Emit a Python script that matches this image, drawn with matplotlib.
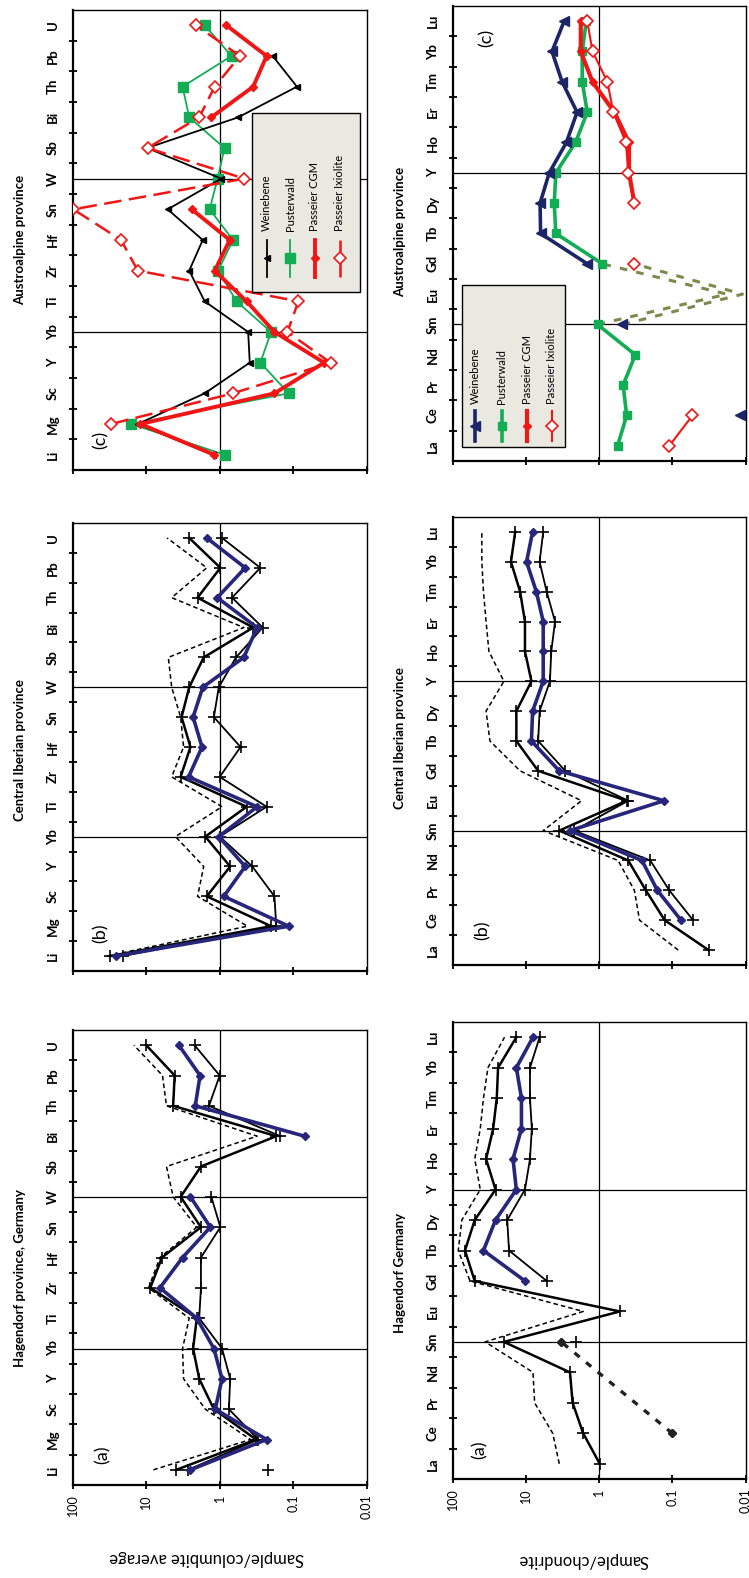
import matplotlib
matplotlib.use("Agg")
import matplotlib.pyplot as plt
from matplotlib.patches import Rectangle
from matplotlib.lines import Line2D
from matplotlib.ticker import NullLocator
import numpy as np

plt.rcParams['font.family'] = ['Lato', 'DejaVu Sans']

nan = np.nan

ELEM = ["Li", "Mg", "Sc", "Y", "Yb", "Ti", "Zr", "Hf", "Sn", "W", "Sb", "Bi", "Th", "Pb", "U"]
REE = ["La", "Ce", "Pr", "Nd", "Sm", "Eu", "Gd", "Tb", "Dy", "Y", "Ho", "Er", "Tm", "Yb", "Lu"]
VALUE_TICKS = [100, 10, 1, 0.1, 0.01]
VALUE_LABELS = ["100", "10", "1", "0.1", "0.01"]

# (a) Hagendorf - sample / columbite average
hag_col_max = [8.0, 0.38, 1.57, 3.1, 3.2, 2.6, 9.3, 6.5, 2.05, 4.3, 5.3, 0.31, 5.3, 6.0, 14.7]
hag_col_q3 = [3.9, 0.32, 1.2, 1.9, 2.3, 2.05, 8.8, 6.1, 1.8, 3.4, 1.8, 0.17, 4.3, 4.1, 10.0]
hag_col_med = [2.5, 0.23, 1.15, 0.93, 1.2, 2.05, 6.5, 3.2, 1.34, 2.5, nan, 0.07, 2.15, 1.85, 3.6]
hag_col_q1 = [2.7, 0.3, 0.75, 0.72, 0.93, 1.9, 1.8, 1.8, 0.98, 1.3, nan, 0.15, 1.4, 1.0, 2.2]
hag_col_min = [0.22, nan, nan, nan, nan, nan, nan, nan, nan, nan, nan, nan, nan, nan, nan]

# (b) Central Iberian - sample / columbite average
cib_col_max = [34, 0.42, 2.0, 1.65, 4.0, 0.93, 4.5, 3.1, 3.4, 4.5, 5.0, 0.47, 4.5, 1.5, 5.2]
cib_col_q3 = [31, 0.2, 1.5, 0.72, 1.57, 0.43, 3.4, 2.5, 3.3, 2.6, 1.65, 0.35, 2.0, 0.98, 2.6]
cib_col_med = [26, 0.115, 0.88, 0.45, 1.03, 0.31, 2.65, 1.74, 2.3, 1.7, 0.47, 0.31, 1.08, 0.45, 1.5]
cib_col_q1 = [21, 0.17, 0.18, 0.36, 1.0, 0.23, 1.0, 0.52, 1.2, 1.03, 0.6, 0.26, 0.68, 0.28, 0.93]

# (c) Austroalpine - sample / columbite average
aus_col_wei = [1.25, 13, 1.6, 0.39, 0.41, 1.6, 2.6, 1.7, 5.1, 0.95, 9.7, 0.56, 0.089, 0.19, nan]
aus_col_pus = [0.86, 16, 0.115, 0.28, 0.2, 0.59, 1.05, 0.66, 1.37, 1.07, 0.86, 2.6, 3.2, 0.69, 1.6]
aus_col_cgm = [1.2, 12, 0.18, 0.038, 0.18, 0.43, 1.17, 0.73, 2.4, nan, nan, 1.3, 0.35, 0.23, 0.81]
aus_col_ixi = [nan, 30, 0.66, 0.031, 0.12, 0.085, 13, 22, 98, 0.46, 9.6, 1.9, 1.17, 0.53, 2.1]

# (a) Hagendorf - sample / chondrite
hag_ree_max = [3.5, 4.3, 7.6, 8.0, 36, 1.65, 58, 84, 75, 42, 50, 42, 38, 33, 19.6]
hag_ree_q3 = [0.98, 1.65, 2.3, 2.5, 20, 0.52, 50, 68, 50, 26, 35, 28, 25, 24, 13.5]
hag_ree_med = [nan, 0.1, nan, nan, 3.3, nan, 10.3, 38, 26, 13.5, 15, 11.5, 11.5, 13.5, 8.0]
hag_ree_q1 = [nan, nan, nan, nan, 2.1, nan, 5.2, 17, 18, 10.3, 8.8, 8.3, 8.8, 8.8, 6.5]

# (b) Central Iberian - sample / chondrite
cib_ree_max = [0.083, 0.28, 0.33, 0.55, 5.8, 1.74, 12, 31, 35, 20, 32, 35, 38, 40, 40]
cib_ree_q3 = [0.032, 0.127, 0.23, 0.4, 3.5, 0.42, 6.8, 13.5, 13.5, 8.4, 10.3, 10.3, 12, 16, 14]
cib_ree_med = [nan, 0.076, 0.16, 0.26, 2.5, 0.13, 3.5, 8.4, 8.1, 5.8, 5.8, 5.8, 7.2, 9.8, 8.1]
cib_ree_q1 = [nan, 0.052, 0.11, 0.2, 2.2, 0.4, 2.9, 6.8, 6.5, 4.7, 4.5, 4.0, 5.2, 6.5, 5.8]

# (c) Austroalpine - sample / chondrite
aus_ree_wei = [nan, 0.012, nan, nan, 0.48, nan, 1.45, 6.3, 6.4, 4.8, 2.8, 2.0, 3.2, 4.4, 3.0]
aus_ree_pus = [0.56, 0.42, 0.47, 0.32, 1.05, nan, 0.9, 3.9, 4.1, 3.9, 2.1, 1.45, 1.7, 1.7, 1.5]
aus_ree_cgm = [nan, nan, nan, nan, nan, nan, nan, nan, 0.33, 0.39, 0.39, 0.62, 1.23, 1.78, 1.78]
aus_ree_ixi = [0.11, 0.053, nan, nan, nan, nan, 0.33, nan, 0.33, 0.4, 0.43, 0.64, 0.77, 1.23, 1.45]
aus_ree_eu1 = [nan, nan, nan, nan, 1.05, 0.018, 0.9, nan, nan, nan, nan, nan, nan, nan, nan]
aus_ree_eu2 = [nan, nan, nan, nan, 0.48, 0.011, 0.33, nan, nan, nan, nan, nan, nan, nan, nan]

NAVY = '#28267a'
DKBLUE = '#1c2566'
GREEN = '#12ad55'
RED = '#f01616'
OLIVE = '#7c8a4e'

W, H = 749, 1578
fig = plt.figure(figsize=(W / 100, H / 100), dpi=100)


def box(x0, x1, y0, y1):
    return [x0 / W, 1 - y1 / H, (x1 - x0) / W, (y1 - y0) / H]


def style_panel(ax, cats, show_values):
    ax.set_xscale('log')
    ax.set_xlim(100, 0.01)
    ax.set_ylim(0.5, 15.5)
    ax.set_xticks(VALUE_TICKS)
    ax.xaxis.set_minor_locator(NullLocator())
    if show_values:
        ax.set_xticklabels(VALUE_LABELS)
    else:
        ax.set_xticklabels([""] * 5)
    ax.tick_params(axis='x', direction='inout', length=6, width=1.3,
                   labelsize=9, labelrotation=90, pad=4)
    ax.set_yticks(np.arange(1.5, 15, 1))
    ax.set_yticklabels([])
    ax.set_yticks(np.arange(1, 16), minor=True)
    ax.set_yticklabels(cats, minor=True, rotation=90, fontsize=9.5,
                       fontweight='bold', va='center')
    ax.tick_params(axis='y', which='major', direction='inout', length=6, width=1.3)
    ax.tick_params(axis='y', which='minor', length=0, pad=10)
    for s in ax.spines.values():
        s.set_linewidth(1.0)
    ax.spines['left'].set_linewidth(1.6)
    ax.spines['bottom'].set_linewidth(1.6)
    ax.axvline(1, color='black', lw=0.9, zorder=1)
    ax.axhline(5, color='black', lw=0.9, zorder=1)
    ax.axhline(10, color='black', lw=0.9, zorder=1)


def draw(ax, vals, connect=False, **kw):
    v = np.array(vals, dtype=float)
    pos = np.arange(1, len(v) + 1)
    if connect:
        m = ~np.isnan(v)
        ax.plot(v[m], pos[m], **kw)
    else:
        ax.plot(v, pos, **kw)


def draw_stats(ax, mx, q3, med, q1):
    draw(ax, mx, color='black', lw=1.1, ls=(0, (3, 2)), zorder=3)
    draw(ax, q3, color='black', lw=1.8, marker='+', ms=8, mew=1.2, zorder=3)
    draw(ax, q1, color='black', lw=1.3, marker='+', ms=8, mew=1.2, zorder=3)
    draw(ax, med, color=NAVY, lw=2.6, marker='D', ms=4.5, mfc=NAVY, mec=NAVY, zorder=4)


def legend(ax, x0, x1, y0, y1, xs, hy0, hy1, ty, items):
    ax.add_patch(Rectangle((x0, y0), x1 - x0, y1 - y0, transform=ax.transAxes,
                           facecolor='#e9e9e1', edgecolor='black', lw=1.0, zorder=8))
    for x, (label, kw) in zip(xs, items):
        ax.add_line(Line2D([x, x, x], [hy0, (hy0 + hy1) / 2, hy1], transform=ax.transAxes,
                           markevery=[1], zorder=9, **kw))
        ax.text(x, ty, label, transform=ax.transAxes, rotation=90, rotation_mode='anchor',
                ha='left', va='center', fontsize=8, zorder=9)


# panel frames (pixel bounds of the plot areas)
ax_ca = fig.add_axes(box(72.7, 366.7, 1030, 1485))
ax_cb = fig.add_axes(box(72.7, 366.7, 523, 971))
ax_cc = fig.add_axes(box(72.7, 366.7, 10, 470))
ax_ra = fig.add_axes(box(452.7, 745.5, 1022, 1479))
ax_rb = fig.add_axes(box(452.7, 745.5, 517, 965))
ax_rc = fig.add_axes(box(452.7, 745.5, 6, 461))

for ax, cats, show in [(ax_ca, ELEM, True), (ax_cb, ELEM, False), (ax_cc, ELEM, False),
                       (ax_ra, REE, True), (ax_rb, REE, False), (ax_rc, REE, False)]:
    style_panel(ax, cats, show)

# Hagendorf columbite
draw_stats(ax_ca, hag_col_max, hag_col_q3, hag_col_med, hag_col_q1)
draw(ax_ca, hag_col_min, color='black', ls='none', marker='+', ms=8, mew=1.2)

# Central Iberian columbite
draw_stats(ax_cb, cib_col_max, cib_col_q3, cib_col_med, cib_col_q1)

# Austroalpine columbite
wei_kw = dict(color='black', lw=1.3, marker='<', ms=5, mfc='black', mec='black')
pus_kw = dict(color=GREEN, lw=1.3, marker='s', ms=7, mfc=GREEN, mec=GREEN)
cgm_kw = dict(color=RED, lw=2.8, marker='D', ms=4.5, mfc=RED, mec=RED)
ixi_kw = dict(color=RED, lw=1.8, ls=(0, (7, 3)), marker='D', ms=6, mfc='white', mec=RED, mew=1.2)
draw(ax_cc, aus_col_wei, zorder=4, **wei_kw)
draw(ax_cc, aus_col_pus, zorder=3, **pus_kw)
draw(ax_cc, aus_col_cgm, zorder=5, **cgm_kw)
draw(ax_cc, aus_col_ixi, zorder=6, **ixi_kw)
legend(ax_cc, 0.61, 0.977, 0.387, 0.776, [0.66, 0.74, 0.824, 0.909], 0.42, 0.50, 0.52,
       [("Weinebene", wei_kw), ("Pusterwald", pus_kw),
        ("Passeier CGM", cgm_kw), ("Passeier Ixiolite", ixi_kw)])

# Hagendorf REE
draw_stats(ax_ra, hag_ree_max, hag_ree_q3, hag_ree_med, hag_ree_q1)
lree = list(hag_ree_med[:5]) + [nan] * 10
draw(ax_ra, lree, connect=True, color='#222222', lw=2.4, ls=(0, (2, 2.5)),
     marker='D', ms=4.5, zorder=4)

# Central Iberian REE
draw_stats(ax_rb, cib_ree_max, cib_ree_q3, cib_ree_med, cib_ree_q1)

# Austroalpine REE
wei_r = dict(color=DKBLUE, lw=2.6, marker='<', ms=7, mfc=DKBLUE, mec=DKBLUE)
pus_r = dict(color=GREEN, lw=2.6, marker='s', ms=6, mfc=GREEN, mec=GREEN)
cgm_r = dict(color=RED, lw=3.0, marker='D', ms=4, mfc=RED, mec=RED)
ixi_r = dict(color=RED, lw=1.5, marker='D', ms=6, mfc='white', mec=RED, mew=1.2)
draw(ax_rc, aus_ree_eu1, color=OLIVE, lw=2.2, ls=(0, (2.5, 3)), zorder=2)
draw(ax_rc, aus_ree_eu2, color=OLIVE, lw=2.2, ls=(0, (2.5, 3)), zorder=2)
draw(ax_rc, aus_ree_wei, zorder=4, **wei_r)
draw(ax_rc, aus_ree_pus, zorder=3, **pus_r)
draw(ax_rc, aus_ree_cgm, zorder=5, **cgm_r)
draw(ax_rc, aus_ree_ixi, zorder=6, **ixi_r)
legend(ax_rc, 0.032, 0.384, 0.031, 0.387, [0.076, 0.168, 0.254, 0.339], 0.045, 0.11, 0.125,
       [("Weinebene", wei_r), ("Pusterwald", pus_r),
        ("Passeier CGM", cgm_r), ("Passeier Ixiolite", ixi_r)])

# panel letters
for ax, lab, x, y in [(ax_ca, "(a)", 0.103, 0.066), (ax_cb, "(b)", 0.095, 0.085),
                      (ax_cc, "(c)", 0.095, 0.065), (ax_ra, "(a)", 0.093, 0.063),
                      (ax_rb, "(b)", 0.103, 0.078), (ax_rc, "(c)", 0.117, 0.93)]:
    ax.text(x, y, lab, transform=ax.transAxes, rotation=90, ha='center', va='center',
            fontsize=13, zorder=10)

# titles
titles = [("Hagendorf province, Germany", 20, 1278), ("Central Iberian province", 20, 750),
          ("Austroalpine province", 20, 240), ("Hagendorf Germany", 400, 1273),
          ("Central Iberian province", 400, 738), ("Austroalpine province", 400, 232)]
for t, x, y in titles:
    fig.text(x / W, 1 - y / H, t, rotation=90, ha='center', va='center',
             fontsize=9.5, fontweight='bold')

fig.text(207 / W, 1 - 1558 / H, "Sample/columbite average", rotation=180,
         ha='center', va='center', fontsize=12)
fig.text(583 / W, 1 - 1560 / H, "Sample/chondrite", rotation=180,
         ha='center', va='center', fontsize=12)

fig.savefig("out.png", dpi=100, facecolor='white')
